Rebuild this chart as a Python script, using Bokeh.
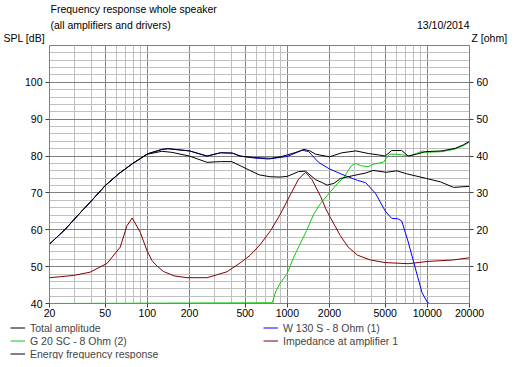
from bokeh.plotting import figure
from bokeh.layouts import column
from bokeh.models import (Range1d, LinearAxis, FixedTicker, Legend, Label,
                          LegendItem, NumeralTickFormatter)
from bokeh.embed import file_html
from bokeh.resources import INLINE

# ---------------- data ----------------
title_1 = "Frequency response whole speaker"
title_2 = "(all amplifiers and drivers)"
date_text = "13/10/2014"
left_label = "SPL [dB]"
right_label = "Z [ohm]"

x_major = [20, 50, 100, 200, 500, 1000, 2000, 5000, 10000, 20000]
x_minor = [30, 40, 60, 70, 80, 90, 300, 400, 600, 700, 800, 900,
           3000, 4000, 6000, 7000, 8000, 9000]
spl_ticks = [40, 50, 60, 70, 80, 90, 100]
spl_grid = [40, 50, 60, 70, 80, 90, 100, 110]
spl_minor = [42, 44, 46, 48, 52, 54, 56, 58, 62, 64, 66, 68, 72, 74, 76, 78,
             82, 84, 86, 88, 92, 94, 96, 98, 102, 104, 106, 108]
z_ticks = [10, 20, 30, 40, 50, 60]

total_freq = [20, 26, 32.4, 40.4, 50, 62.5, 78, 100, 127, 140, 200, 267, 333,
              405, 460, 573, 760, 890, 1000, 1150, 1315, 1450, 1590, 2000,
              2460, 3090, 3780, 4500, 5000, 5560, 6560, 7300, 8350, 9700,
              12700, 15800, 18000, 20000]
total_spl = [56.1, 60.2, 64.2, 68.1, 72.0, 75.2, 77.9, 80.6, 81.8, 82.0, 81.4,
             80.0, 80.9, 80.8, 80.0, 79.6, 79.4, 79.8, 80.3, 81.0, 81.8, 81.4,
             80.5, 79.8, 80.9, 81.4, 80.7, 80.3, 80.0, 81.5, 81.5, 80.0, 80.5,
             81.2, 81.4, 82.1, 83.0, 84.0]

energy_freq = [20, 26, 32.4, 40.4, 50, 62.5, 78, 100, 127, 150, 200, 267, 333,
               400, 460, 540, 630, 750, 890, 1000, 1205, 1350, 1590, 1775,
               1920, 2150, 2390, 2950, 3620, 4100, 5100, 6060, 7100, 9900,
               12400, 15400, 20000]
energy_spl = [56.1, 60.2, 64.2, 68.1, 72.0, 75.2, 77.9, 80.5, 81.3, 81.0,
              80.0, 78.3, 78.5, 78.5, 77.4, 76.1, 74.9, 74.4, 74.3, 74.5,
              75.8, 75.9, 73.6, 72.8, 72.1, 72.6, 73.9, 74.7, 75.4, 76.1,
              75.6, 76.0, 75.2, 73.9, 73.0, 71.5, 71.8]

woofer_freq = [20, 26, 32.4, 40.4, 50, 62.5, 78, 100, 127, 140, 200, 267, 333,
               405, 460, 573, 735, 1000, 1278, 1420, 1670, 2000, 2580, 3175,
               3620, 4260, 5000, 5560, 6150, 6560, 7300, 8200, 9150, 10000,
               10400, 20000]
woofer_spl = [56.1, 60.2, 64.2, 68.1, 72.0, 75.2, 77.9, 80.6, 81.8, 82.0,
              81.4, 80.0, 80.9, 80.8, 80.0, 79.5, 79.2, 79.9, 81.6, 81.2,
              78.3, 76.5, 74.7, 73.4, 72.8, 69.9, 65.1, 63.1, 63.0, 62.4,
              56.7, 49.6, 43.0, 40.3, 40.0, 40.0]

tweeter_freq = [20, 780, 830, 890, 990, 1100, 1220, 1375, 1540, 1730, 2030,
                2270, 2540, 2870, 3090, 3340, 3780, 4100, 4830, 5380, 6000,
                6680, 7400, 8350, 9300, 9700, 12700, 15800, 18000, 20000]
tweeter_spl = [40.0, 40.2, 43.4, 45.6, 47.9, 52.2, 55.8, 59.8, 64.2, 67.2,
               70.3, 72.5, 74.3, 77.4, 78.0, 77.4, 77.1, 77.8, 78.3, 80.5,
               80.5, 80.3, 80.0, 80.7, 81.4, 81.0, 81.2, 81.9, 82.8, 83.8]

imp_freq = [20, 29.6, 39, 51.6, 64, 71.5, 78, 89, 99, 108, 117, 130, 155, 192,
            267, 370, 460, 543, 640, 760, 890, 1050, 1205, 1350, 1500, 1730,
            1870, 2030, 2390, 2717, 3175, 3925, 5000, 7300, 10000, 15100,
            20000]
imp_ohm = [7.0, 7.6, 8.5, 10.9, 15.3, 21.1, 23.2, 19.3, 14.5, 11.6, 10.2, 8.7,
           7.5, 7.0, 7.0, 8.6, 11.0, 13.1, 16.0, 19.8, 24.2, 29.5, 33.8, 35.6,
           33.6, 29.0, 25.9, 23.3, 18.4, 15.3, 13.1, 11.8, 11.1, 10.8, 11.4,
           11.8, 12.4]

legend_labels = ["Total amplitude", "G 20 SC - 8 Ohm (2)", "Energy frequency response",
                 "W 130 S - 8 Ohm (1)", "Impedance at amplifier 1"]

# ---------------- style ----------------
FONT = "Liberation Sans"
FS = "10.5px"
C_BLACK = "#000000"
C_BLUE = "#0000ff"
C_GREEN = "#10c810"
C_RED = "#800000"
W = 507


def blank_fig(h, **kw):
    f = figure(width=W, height=h, output_backend="svg", toolbar_location=None,
               x_axis_location=None, y_axis_location=None,
               min_border=0, min_border_left=0, min_border_right=0,
               min_border_top=0, min_border_bottom=0, **kw)
    f.frame_align = False
    f.title.visible = False
    f.outline_line_color = None
    f.xgrid.visible = False
    f.ygrid.visible = False
    f.background_fill_color = "white"
    f.border_fill_color = "white"
    return f


# ---------------- header ----------------
HH = 44
head = blank_fig(HH, x_range=Range1d(0, W), y_range=Range1d(0, HH))


def lab(x, y_from_top, text, align="left"):
    head.add_layout(Label(x=x, y=HH - y_from_top, x_units="screen", y_units="screen",
                          text=text, text_font=FONT, text_font_size=FS,
                          text_color="black", text_align=align,
                          text_baseline="middle"))


lab(50, 8, title_1)
lab(50, 24.5, title_2)
lab(469, 24.5, date_text, "right")
lab(3, 37.5, left_label)
lab(471, 37.5, right_label)

# ---------------- main plot ----------------
p = figure(width=W, height=277, x_axis_type="log",
           x_range=Range1d(20, 20000), y_range=Range1d(40, 110),
           output_backend="svg", toolbar_location=None,
           min_border_left=49, min_border_right=38,
           min_border_top=1, min_border_bottom=18)
p.frame_align = False
p.title.visible = False
p.background_fill_color = "white"
p.border_fill_color = "white"
p.outline_line_color = "#808080"

p.extra_y_ranges = {"z": Range1d(0, 70)}

p.xaxis.ticker = FixedTicker(ticks=x_major, minor_ticks=x_minor)
p.xaxis.formatter = NumeralTickFormatter(format="0")
p.yaxis.ticker = FixedTicker(ticks=spl_ticks)
p.ygrid.ticker = FixedTicker(ticks=spl_grid, minor_ticks=spl_minor)

zax = LinearAxis(y_range_name="z", ticker=FixedTicker(ticks=z_ticks))
p.add_layout(zax, "right")

for ax in p.axis:
    ax.axis_line_color = "#808080"
    ax.major_tick_line_color = "#404040"
    ax.major_tick_in = 0
    ax.major_tick_out = 4
    ax.minor_tick_line_color = None
    ax.major_label_text_font = FONT
    ax.major_label_text_font_size = FS
    ax.major_label_text_color = "black"
    ax.major_label_standoff = 3
p.xaxis.major_label_standoff = 1

for g in (p.xgrid[0], p.ygrid[0]):
    g.grid_line_color = "#808080"
    g.grid_line_alpha = 1.0
    g.minor_grid_line_color = "#c0c0c0"
    g.minor_grid_line_alpha = 1.0

r_imp = p.line(imp_freq, imp_ohm, y_range_name="z", line_color=C_RED, line_width=1)
r_tw = p.line(tweeter_freq, tweeter_spl, line_color=C_GREEN, line_width=1)
r_wf = p.line(woofer_freq, woofer_spl, line_color=C_BLUE, line_width=1)
r_en = p.line(energy_freq, energy_spl, line_color=C_BLACK, line_width=1)
r_tot = p.line(total_freq, total_spl, line_color=C_BLACK, line_width=1)

# ---------------- footer legend ----------------
# legend proxies: the same series, drawn outside the footer's (empty) view
FH = 38
foot = blank_fig(FH, x_range=Range1d(20, 20000), y_range=Range1d(-2, -1))
series = [(total_freq, total_spl, C_BLACK), (tweeter_freq, tweeter_spl, C_GREEN),
          (energy_freq, energy_spl, C_BLACK), (woofer_freq, woofer_spl, C_BLUE),
          (imp_freq, imp_ohm, C_RED)]
items = []
for lbl, (fx, fy, col) in zip(legend_labels, series):
    rr = foot.line(fx, fy, line_color=col, line_width=1)
    items.append(LegendItem(label=lbl, renderers=[rr]))
leg = Legend(items=items, orientation="vertical", nrows=3,
             glyph_width=15, glyph_height=13, label_height=13,
             label_standoff=5, label_width=233, spacing=0, padding=0, margin=0,
             label_text_font=FONT, label_text_font_size=FS,
             border_line_color=None, background_fill_alpha=0.0,
             location=(10, -1))
foot.add_layout(leg)

layout = column(head, p, foot, spacing=0)
open("out.html", "w").write(file_html(layout, INLINE))
